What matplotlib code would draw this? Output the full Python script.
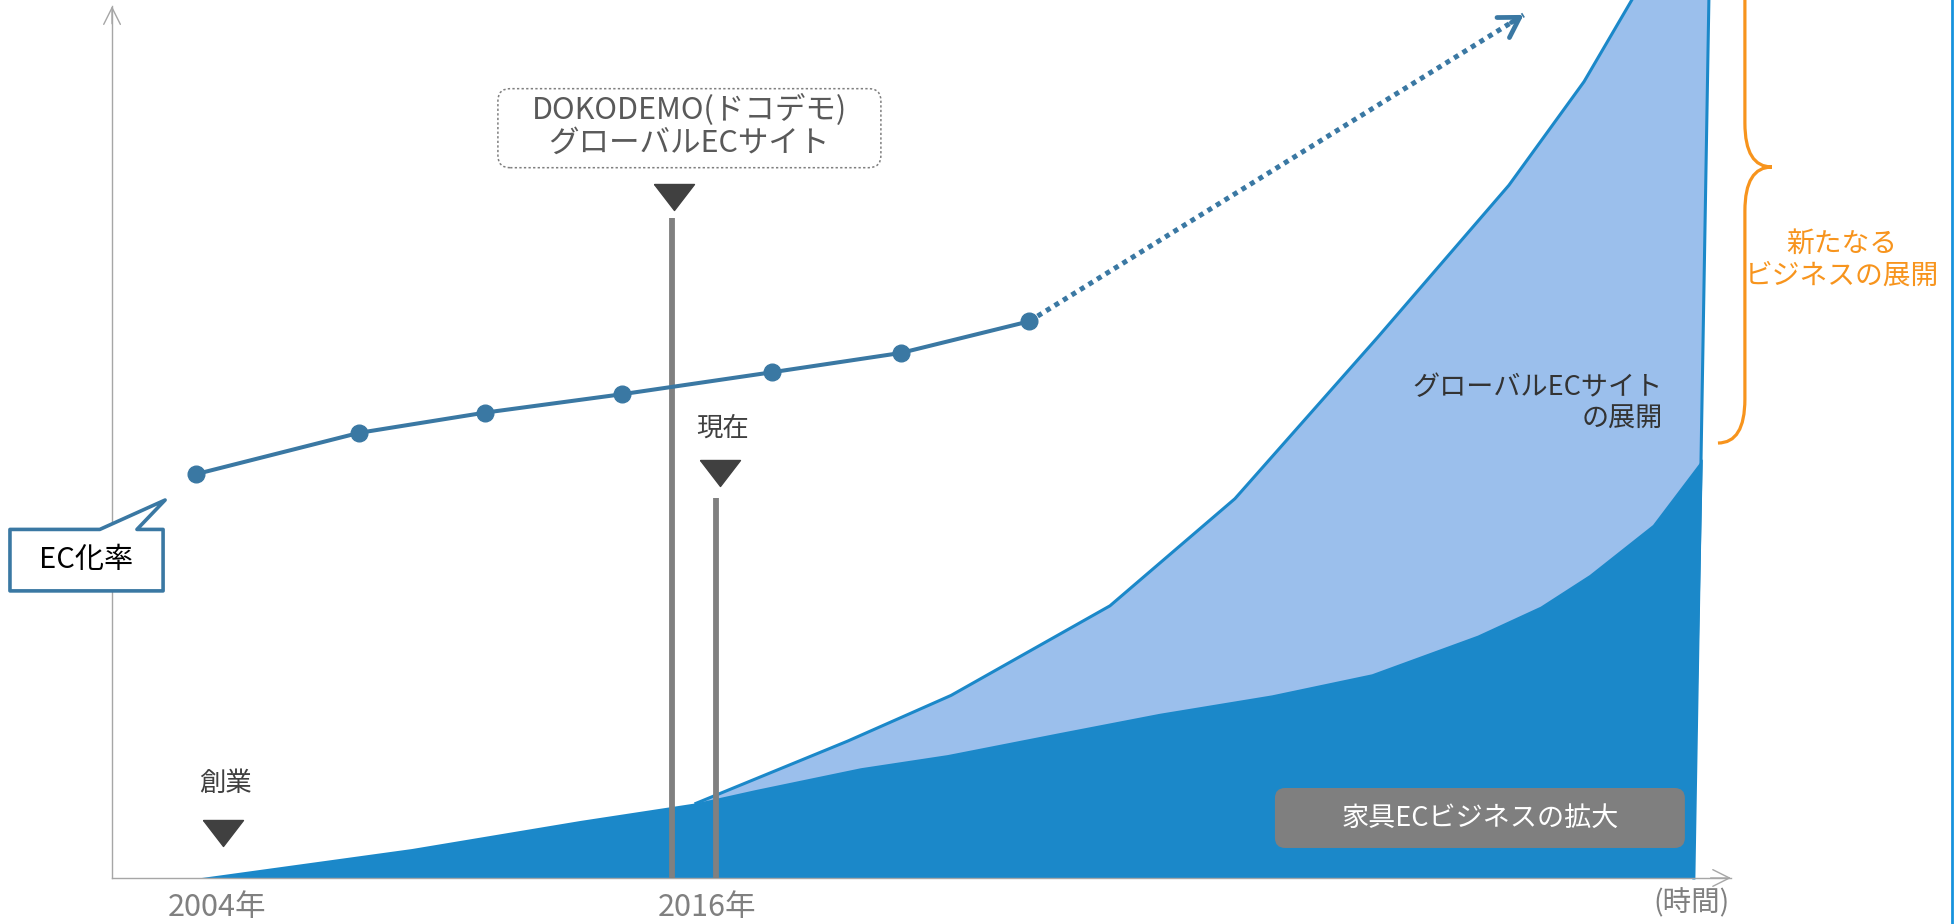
import matplotlib.pyplot as plt
from matplotlib.patches import FancyBboxPatch, Polygon, PathPatch
from matplotlib.path import Path

plt.rcParams['font.family'] = ['Noto Sans CJK JP', 'DejaVu Sans']

# EC化率: observed points, then the dotted projection
ec_years = [2003.49, 2007.48, 2010.56, 2013.92, 2017.59, 2020.75, 2023.89]
ec_rate = [46.0, 50.7, 53.0, 55.1, 57.6, 59.8, 63.4]
forecast_year, forecast_rate = 2036.0, 98.3

# 家具ECビジネス (dark area)
core_years = [2003.63, 2008.78, 2012.91, 2015.73, 2017.18, 2019.77, 2021.90, 2024.64,
              2027.09, 2029.84, 2032.29, 2034.88, 2036.42, 2037.62, 2039.17, 2040.39]
core_values = [0.0, 3.3, 6.5, 8.5, 10.0, 12.5, 14.0, 16.5,
               18.7, 20.8, 23.2, 27.6, 30.9, 34.5, 40.2, 47.7]

# グローバルECサイト (light area, upper edge)
global_years = [2015.73, 2019.45, 2021.98, 2025.87, 2028.93, 2032.43, 2035.64, 2037.48,
                2038.65, 2039.40]
global_values = [8.5, 15.6, 20.8, 31.0, 43.2, 61.6, 78.9, 90.7, 100.0, 106.0]

# right-hand edge of both areas (top, bottom)
edge_years = [2040.56, 2040.17]
edge_values = [106.0, 0.0]

# milestones
founding_year = 2004.15
dokodemo_year, dokodemo_top = 2015.15, 75.2
now_year, now_top = 2016.22, 43.3

tick_years = [2004, 2016]
tick_labels = ['2004年', '2016年']

DARK = '#1b88c9'
LIGHT = '#9bbfec'
EC = '#3a78a3'
GRAY = '#808080'
MARK = '#404040'
ORANGE = '#f7941d'

fig = plt.figure(figsize=(19.56, 9.24), dpi=100)
ax = fig.add_axes([0, 0, 1, 1])
ax.set_xlim(1998.686, 2046.59)
ax.set_ylim(-5.24, 100)

# axes with open arrow heads
x0, x1, ytop = 2001.43, 2041.08, 99.3
for side in ('top', 'right'):
    ax.spines[side].set_visible(False)
ax.spines['left'].set_position(('data', x0))
ax.spines['left'].set_bounds(0, ytop)
ax.spines['bottom'].set_position(('data', 0))
ax.spines['bottom'].set_bounds(x0, x1)
for side in ('left', 'bottom'):
    ax.spines[side].set_color('#a6a6a6')
    ax.spines[side].set_linewidth(1.0)
axis_head = dict(arrowstyle='->,head_length=1.2,head_width=0.6', color='#a6a6a6',
                 lw=1.0, shrinkA=0, shrinkB=0)
ax.annotate('', xy=(x1, 0), xytext=(x1 - 0.5, 0), arrowprops=axis_head)
ax.annotate('', xy=(x0, ytop), xytext=(x0, ytop - 2), arrowprops=axis_head)

ax.set_yticks([])
ax.set_xticks(tick_years, tick_labels)
ax.tick_params(axis='x', length=0, pad=10, labelsize=22, labelcolor=GRAY)

# stacked areas
ax.fill(global_years + edge_years, global_values + edge_values, color=LIGHT, lw=0, zorder=1)
ax.plot(global_years + edge_years, global_values + edge_values, color=DARK, lw=2.2,
        solid_joinstyle='round', zorder=2)
ax.fill(core_years + edge_years[1:], core_values + edge_values[1:], color=DARK, lw=0,
        zorder=2)

# milestone lines and markers
ax.vlines([dokodemo_year, now_year], 0, [dokodemo_top, now_top], color=GRAY, lw=4.2,
          zorder=3)
tri = [(-1, 0.65), (1, 0.65), (0, -0.65), (-1, 0.65)]
ax.plot([founding_year, dokodemo_year + 0.05, now_year + 0.1], [5.1, 77.6, 46.1],
        ls='none', marker=tri, ms=28.8, color=MARK, zorder=5)

# EC化率 line and projection
ax.plot(ec_years, ec_rate, color=EC, lw=2.9, marker='o', ms=12, zorder=4)
ax.plot([ec_years[-1], forecast_year], [ec_rate[-1], forecast_rate], color=EC, lw=3.6,
        ls=(0, (1, 1)), dash_capstyle='butt', zorder=4)
step = (forecast_rate - ec_rate[-1]) / (forecast_year - ec_years[-1])
ax.annotate('', xy=(forecast_year, forecast_rate),
            xytext=(forecast_year - 0.3, forecast_rate - 0.3 * step),
            arrowprops=dict(arrowstyle='->,head_length=1.4,head_width=0.85', color=EC,
                            lw=3.4, shrinkA=0, shrinkB=0), zorder=4)

# DOKODEMO callout
ax.add_patch(FancyBboxPatch((2010.88, 80.9), 9.38, 9.0,
                            boxstyle='round,pad=0,rounding_size=0.3', mutation_aspect=4.65,
                            fill=False, ec='#7f7f7f', lw=1.1, ls=(0, (1.5, 1.5)), zorder=5))
ax.text(2015.57, 85.6, 'DOKODEMO(ドコデモ)\nグローバルECサイト', ha='center', va='center',
        fontsize=22, color='#595959', linespacing=1.1, zorder=6)

# EC化率 speech bubble
bubble = [(1998.93, 32.7), (2002.68, 32.7), (2002.68, 39.7), (2002.04, 39.7),
          (2002.73, 43.05), (2001.13, 39.7), (1998.93, 39.7)]
ax.add_patch(Polygon(bubble, closed=True, fc='white', ec=EC, lw=2.6, joinstyle='round',
                     zorder=5))
ax.text(2000.8, 36.2, 'EC化率', ha='center', va='center', fontsize=21, color='black',
        zorder=6)

# 家具EC label box
ax.add_patch(FancyBboxPatch((2029.91, 3.42), 10.04, 6.83,
                            boxstyle='round,pad=0,rounding_size=0.25', mutation_aspect=4.65,
                            fc='#7f7f7f', ec='none', zorder=5))
ax.text(2034.93, 6.83, '家具ECビジネスの拡大', ha='center', va='center', fontsize=19.5,
        color='white', zorder=6)

ax.text(2039.41, 54.05, 'グローバルECサイト\nの展開', ha='right', va='center', fontsize=19.5,
        color='#333333', zorder=6)
ax.text(founding_year + 0.05, 10.8, '創業', ha='center', va='center', fontsize=19,
        color=MARK)
ax.text(now_year + 0.17, 51.25, '現在', ha='center', va='center', fontsize=19, color=MARK)
ax.text(2040.1, -2.9, '(時間)', ha='center', va='center', fontsize=20.5, color=GRAY)

# curly brace for the new business
bx, bx_tip, bx_end = 2041.42, 2042.08, 2040.76
b_low, b_high, b_tip, b_round = 49.54, 112.4, 80.98, 5.0
verts = [(bx_end, b_high), (bx, b_high), (bx, b_high - b_round),
         (bx, b_tip + b_round), (bx, b_tip), (bx_tip, b_tip),
         (bx, b_tip), (bx, b_tip - b_round),
         (bx, b_low + b_round), (bx, b_low), (bx_end, b_low)]
codes = [Path.MOVETO, Path.CURVE3, Path.CURVE3, Path.LINETO, Path.CURVE3, Path.CURVE3,
         Path.CURVE3, Path.CURVE3, Path.LINETO, Path.CURVE3, Path.CURVE3]
ax.add_patch(PathPatch(Path(verts, codes), fill=False, ec=ORANGE, lw=2.3, zorder=5))
ax.text(2043.8, 70.4, '新たなる\nビジネスの展開', ha='center', va='center', fontsize=20,
        color=ORANGE, linespacing=1.1)

ax.axvline(2046.49, color='#1793dd', lw=2.0)

fig.savefig('out.png', dpi=100)
